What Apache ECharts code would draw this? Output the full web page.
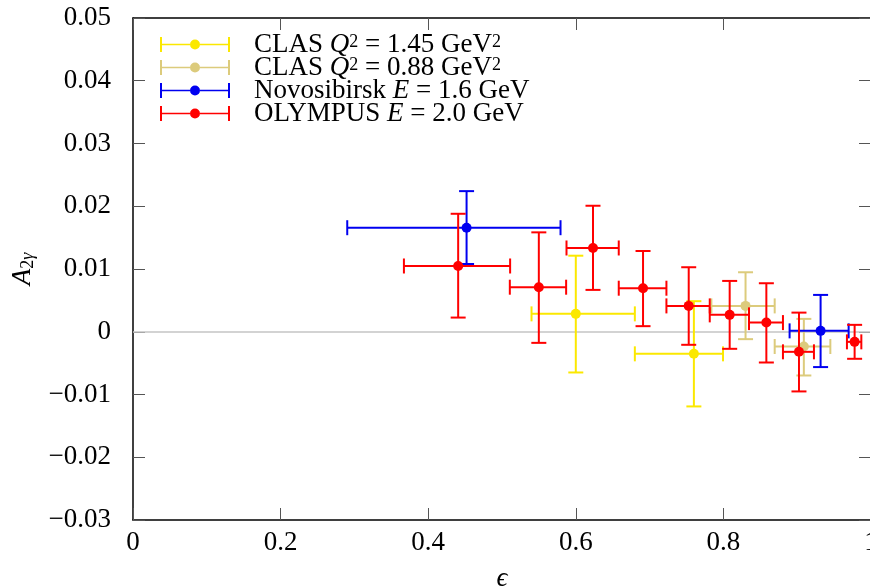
<!DOCTYPE html>
<html>
<head>
<meta charset="utf-8">
<script src="https://cdn.jsdelivr.net/npm/echarts@6/dist/echarts.min.js"></script>
<style>html,body{margin:0;padding:0;background:#fff}#c{width:870px;height:588px}</style>
</head>
<body>
<div id="c"></div>
<script>
// ---- data ----
const xTicks = [0, 0.2, 0.4, 0.6, 0.8, 1];
const yTicks = [-0.03, -0.02, -0.01, 0, 0.01, 0.02, 0.03, 0.04, 0.05];

const seriesNames = ['CLAS145', 'CLAS088', 'Novosibirsk', 'OLYMPUS'];

// CLAS Q^2 = 1.45 GeV^2
const clas145X     = [0.600, 0.760];
const clas145Y     = [0.00285, -0.00352];
const clas145XLow  = [0.540, 0.680];
const clas145XHigh = [0.680, 0.7995];
const clas145YLow  = [-0.00649, -0.0119];
const clas145YHigh = [0.01212, 0.00487];

// CLAS Q^2 = 0.88 GeV^2
const clas088X     = [0.830, 0.909];
const clas088Y     = [0.00412, -0.00235];
const clas088XLow  = [0.7837, 0.8695];
const clas088XHigh = [0.8695, 0.9449];
const clas088YLow  = [-0.00118, -0.00697];
const clas088YHigh = [0.00948, 0.00205];

// Novosibirsk E = 1.6 GeV
const novoX     = [0.452, 0.9317];
const novoY     = [0.01658, 0.00014];
const novoXLow  = [0.2903, 0.8897];
const novoXHigh = [0.5793, 0.9697];
const novoYLow  = [0.0108, -0.00563];
const novoYHigh = [0.02241, 0.00587];

// OLYMPUS E = 2.0 GeV
const olyX     = [0.4406, 0.5499, 0.6233, 0.6911, 0.753, 0.8085, 0.8582, 0.9024, 0.9778];
const olyY     = [0.01048, 0.0071, 0.01335, 0.00694, 0.00412, 0.00269, 0.00146, -0.0032, -0.00161];
const olyXLow  = [0.3671, 0.5106, 0.5874, 0.6582, 0.7228, 0.7815, 0.8347, 0.8807, 0.9674];
const olyXHigh = [0.511, 0.5869, 0.6582, 0.7228, 0.7815, 0.8347, 0.8807, 0.9227, 0.9869];
const olyYLow  = [0.00226, -0.00177, 0.00667, 0.00089, -0.00208, -0.00272, -0.0049, -0.00951, -0.00431];
const olyYHigh = [0.0188, 0.01584, 0.02008, 0.01287, 0.01028, 0.0081, 0.00773, 0.00305, 0.0011];

// ---- build ----
function rows(x, y, xl, xh, yl, yh) {
  return x.map((v, i) => [v, y[i], xl[i], xh[i], yl[i], yh[i]]);
}
const seriesData = {
  CLAS145: rows(clas145X, clas145Y, clas145XLow, clas145XHigh, clas145YLow, clas145YHigh),
  CLAS088: rows(clas088X, clas088Y, clas088XLow, clas088XHigh, clas088YLow, clas088YHigh),
  Novosibirsk: rows(novoX, novoY, novoXLow, novoXHigh, novoYLow, novoYHigh),
  OLYMPUS: rows(olyX, olyY, olyXLow, olyXHigh, olyYLow, olyYHigh)
};
const colors = { CLAS145: '#fbe800', CLAS088: '#dccb7c', Novosibirsk: '#0000f0', OLYMPUS: '#ff0000' };
const legendText = {
  CLAS145: 'CLAS {i|Q}{sup|2} = 1.45 GeV{sup|2}',
  CLAS088: 'CLAS {i|Q}{sup|2} = 0.88 GeV{sup|2}',
  Novosibirsk: 'Novosibirsk {i|E} = 1.6 GeV',
  OLYMPUS: 'OLYMPUS {i|E} = 2.0 GeV'
};

const FONT = 'Liberation Serif';
const CAP = 7.5, LW = 2, R = 5;

function renderItem(params, api) {
  const color = api.visual('color');
  const x = api.value(0), y = api.value(1);
  const xl = api.value(2), xh = api.value(3), yl = api.value(4), yh = api.value(5);
  const pL = api.coord([xl, y]), pR = api.coord([xh, y]);
  const pB = api.coord([x, yl]), pT = api.coord([x, yh]);
  const c = api.coord([x, y]);
  const ls = { stroke: color, lineWidth: LW, fill: null };
  const line = (x1, y1, x2, y2) => ({ type: 'line', shape: { x1, y1, x2, y2 }, style: ls });
  return {
    type: 'group',
    children: [
      line(pL[0], pL[1], pR[0], pR[1]),
      line(pL[0], pL[1] - CAP, pL[0], pL[1] + CAP),
      line(pR[0], pR[1] - CAP, pR[0], pR[1] + CAP),
      line(pB[0], pB[1], pT[0], pT[1]),
      line(pB[0] - CAP, pB[1], pB[0] + CAP, pB[1]),
      line(pT[0] - CAP, pT[1], pT[0] + CAP, pT[1]),
      { type: 'circle', shape: { cx: c[0], cy: c[1], r: R }, style: { fill: color } }
    ]
  };
}

const legendIcon = 'path://M0,6.75H30V8.25H0Z M40,6.75H70V8.25H40Z M0,0H2V15H0Z M68,0H70V15H68Z M30,7.5A5,5 0 1,1 40,7.5A5,5 0 1,1 30,7.5Z';

function fmt(v) {
  const r = Math.round(v * 100) / 100;
  return String(r).replace('-', '\u2212');
}

const tickStyle = { show: true, inside: true, length: 12, lineStyle: { color: '#555', width: 1 } };
const frameLine = { show: true, onZero: false, lineStyle: { color: '#000', width: 1.5 } };

const option = {
  animation: false,
  backgroundColor: '#fff',
  textStyle: { fontFamily: FONT },
  grid: { left: 133, right: -1, top: 18, bottom: 68, containLabel: false, outerBoundsMode: 'none' },
  legend: {
    left: 160, top: 31, orient: 'vertical',
    padding: 0, itemGap: -4,
    itemWidth: 70, itemHeight: 15,
    data: seriesNames.map(n => ({ name: n, icon: legendIcon })),
    formatter: n => legendText[n],
    textStyle: {
      fontFamily: FONT, fontSize: 27, color: '#000', lineHeight: 22,
      padding: [0, 0, 0, 19],
      rich: {
        i: { fontFamily: FONT, fontSize: 27, fontStyle: 'italic', color: '#000', lineHeight: 22 },
        sup: { fontFamily: FONT, fontSize: 18, color: '#000', lineHeight: 8, verticalAlign: 'top' }
      }
    }
  },
  xAxis: [
    {
      type: 'value', min: 0, max: 1, interval: 0.2, position: 'bottom',
      axisLine: frameLine, axisTick: tickStyle, splitLine: { show: false },
      axisLabel: { fontFamily: FONT, fontSize: 27, color: '#000', margin: 9, formatter: fmt, showMaxLabel: true },
      name: '\u03f5', nameLocation: 'middle', nameGap: 45,
      nameTextStyle: { fontFamily: FONT, fontSize: 27, fontStyle: 'italic', color: '#000' }
    },
    {
      type: 'value', min: 0, max: 1, interval: 0.2, position: 'top',
      axisLine: frameLine, axisTick: tickStyle, splitLine: { show: false }, axisLabel: { show: false }
    }
  ],
  yAxis: [
    {
      type: 'value', min: -0.03, max: 0.05, interval: 0.01, position: 'left',
      axisLine: frameLine, axisTick: tickStyle, splitLine: { show: false },
      axisLabel: { fontFamily: FONT, fontSize: 27, color: '#000', margin: 22, formatter: fmt },
      name: '{a|A}{s|2}{g|\u03b3}', nameLocation: 'middle', nameRotate: 90, nameGap: 95,
      nameTextStyle: {
        rich: {
          a: { fontFamily: FONT, fontSize: 27, fontStyle: 'italic', color: '#000', lineHeight: 30 },
          s: { fontFamily: FONT, fontSize: 18, color: '#000', lineHeight: 20, verticalAlign: 'bottom' },
          g: { fontFamily: FONT, fontSize: 18, fontStyle: 'italic', color: '#000', lineHeight: 20, verticalAlign: 'bottom' }
        }
      }
    },
    {
      type: 'value', min: -0.03, max: 0.05, interval: 0.01, position: 'right',
      axisLine: frameLine, axisTick: tickStyle, splitLine: { show: false }, axisLabel: { show: false }
    }
  ],
  series: seriesNames.map((n, idx) => ({
    name: n,
    type: 'custom',
    xAxisIndex: 0, yAxisIndex: 0,
    renderItem: renderItem,
    itemStyle: { color: colors[n] },
    encode: { x: 0, y: 1 },
    data: seriesData[n],
    z: 2 + idx,
    markLine: idx === 0 ? {
      silent: true, symbol: 'none', label: { show: false },
      lineStyle: { color: '#c4c4c4', width: 1.5, type: 'solid' },
      data: [{ yAxis: 0 }], z: 1
    } : undefined
  }))
};

const chart = echarts.init(document.getElementById('c'), null, { renderer: 'canvas' });
chart.setOption(option);
</script>
</body>
</html>
